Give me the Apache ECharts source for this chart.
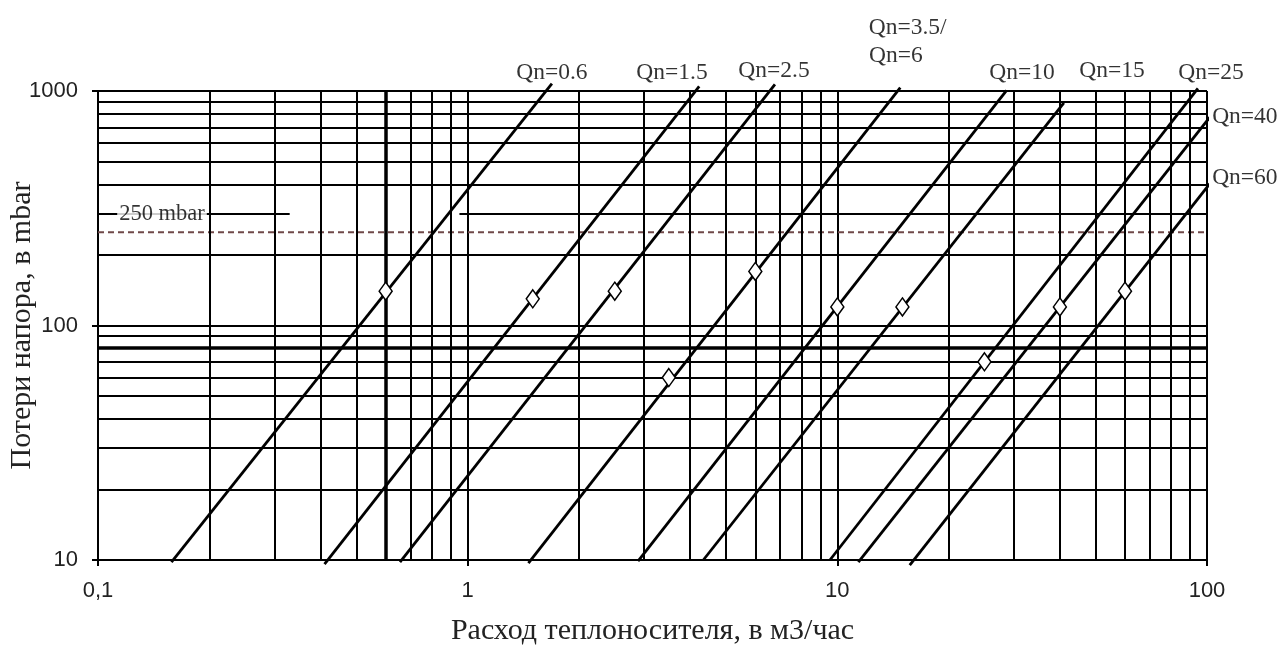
<!DOCTYPE html>
<html><head><meta charset="utf-8">
<script src="https://cdn.jsdelivr.net/npm/echarts@6/dist/echarts.min.js"></script>
<style>html,body{margin:0;padding:0;background:#fff}#c{width:1281px;height:646px}</style>
</head><body><div id="c"></div>
<script>
// ---- data ----
const xTickLabels = ['0,1', '1', '10', '100'];
const yTickLabels = ['10', '100', '1000'];
const xMinorGrid = [0.2, 0.3, 0.4, 0.5, 0.7, 0.8, 0.9, 2, 3, 4, 5, 6, 7, 8, 9, 20, 30, 40, 50, 60, 70, 80, 90];
const yMinorGrid = [20, 30, 40, 50, 60, 70, 90, 200, 400, 500, 600, 700, 800, 900];
const xHeavyGrid = [0.6];
const yHeavyGrid = [80];
const partialGridY = 300;
const partialGridFrom = 0.95;
const limitValue = 250;
const limitLabel = '250 mbar';
const limitLeader = [0.1, 0.33];
const limitSpan = [0.1, 105];

const lineNames = ['Qn=0.6', 'Qn=1.5', 'Qn=2.5', 'Qn=3.5/6', 'Qn=10', 'Qn=15', 'Qn=25', 'Qn=40', 'Qn=60'];
const lineQn06 = [[0.158, 9.8], [1.69, 1075]];
const lineQn15 = [[0.41, 9.6], [4.23, 1047]];
const lineQn25 = [[0.656, 9.8], [6.78, 1068]];
const lineQn35 = [[1.46, 9.7], [14.8, 1034]];
const lineQn10 = [[2.89, 9.9], [28.7, 1007]];
const lineQn150 = [[4.34, 10], [41, 890]];
const lineQn250 = [[9.55, 10], [94.5, 1027]];
const lineQn40 = [[11.4, 9.8], [101.8, 774]];
const lineQn60 = [[15.7, 9.5], [101.8, 403]];
const lines = [lineQn06, lineQn15, lineQn25, lineQn35, lineQn10, lineQn150, lineQn250, lineQn40, lineQn60];

const nominalPoints = [[0.6, 140], [1.5, 130], [2.5, 140], [3.5, 60], [6, 170], [10, 120], [15, 120], [25, 70], [40, 120], [60, 140]];

const labelTexts = ['Qn=0.6', 'Qn=1.5', 'Qn=2.5', 'Qn=3.5/', 'Qn=6', 'Qn=10', 'Qn=15', 'Qn=25', 'Qn=40', 'Qn=60'];
const labelAnchors = [[1.69, 1201], [3.57, 1201], [6.74, 1225], [15.5, 1868], [14.4, 1419], [31.6, 1201], [55.3, 1225], [102.5, 1201], [126.6, 773], [126.6, 425]];

// ---- chart ----
const ink = '#000';
const serif = 'Liberation Serif';
const gridStyle = { color: ink, width: 2, type: 'solid' };
const heavyStyle = { color: ink, width: 3.5, type: 'solid' };

const gridLines = []
  .concat(xMinorGrid.map(v => ({ xAxis: v, lineStyle: gridStyle })))
  .concat(yMinorGrid.map(v => ({ yAxis: v, lineStyle: gridStyle })))
  .concat(xHeavyGrid.map(v => ({ xAxis: v, lineStyle: heavyStyle })))
  .concat(yHeavyGrid.map(v => ({ yAxis: v, lineStyle: heavyStyle })));
gridLines.push([{ coord: [partialGridFrom, partialGridY], lineStyle: gridStyle }, { coord: [100, partialGridY] }]);
gridLines.push([{ coord: [limitLeader[0], partialGridY], lineStyle: gridStyle }, { coord: [limitLeader[1], partialGridY] }]);

const series = [{
  type: 'line', data: [], silent: true, clip: false,
  markLine: { silent: true, symbol: ['none', 'none'], label: { show: false }, animation: false,
              lineStyle: gridStyle, data: gridLines }
}];
series.push({
  type: 'line', data: limitSpan.map(x => [x, limitValue]), showSymbol: false, clip: false, z: 4, silent: true,
  lineStyle: { color: '#6f4848', width: 2, type: [6, 4] }
});
lines.forEach((d, i) => series.push({
  name: lineNames[i], type: 'line', data: d, showSymbol: false, clip: false, z: 5,
  lineStyle: { color: ink, width: 2.8 }
}));
series.push({
  type: 'scatter', data: nominalPoints, symbol: 'diamond', symbolSize: [13, 18], z: 8, clip: false,
  itemStyle: { color: '#fff', borderColor: ink, borderWidth: 1.5, opacity: 1 }
});
series.push({
  type: 'scatter', data: labelAnchors.map((c, i) => ({ value: c, name: labelTexts[i] })),
  symbolSize: 0, clip: false, z: 9, silent: true,
  label: { show: true, position: 'inside', formatter: p => p.name, fontFamily: serif, fontSize: 23.5, color: '#000' }
});
series.push({
  type: 'scatter', data: [{ value: [0.149, partialGridY], name: limitLabel }],
  symbolSize: 0, clip: false, z: 9, silent: true,
  label: { show: true, position: 'inside', formatter: p => p.name, fontFamily: serif, fontSize: 22.5, color: '#000',
           backgroundColor: '#fff', padding: [0, 2] }
});

const chart = echarts.init(document.getElementById('c'), null, { renderer: 'canvas' });
chart.setOption({
  animation: false,
  backgroundColor: '#fff',
  grid: { left: 98, right: 74, top: 91, bottom: 86, containLabel: false, outerBoundsMode: 'none' },
  xAxis: {
    type: 'log', logBase: 10, min: 0.1, max: 100,
    axisLine: { show: true, lineStyle: { color: ink, width: 2 } },
    axisTick: { show: true, length: 6, lineStyle: { color: ink, width: 2 } },
    axisLabel: { formatter: (v, i) => xTickLabels[i], fontFamily: 'Liberation Sans', fontSize: 22, color: '#222', margin: 20 },
    splitLine: { show: true, lineStyle: gridStyle },
    name: 'Расход теплоносителя, в м3/час', nameLocation: 'middle', nameGap: 56, nameMoveOverlap: false,
    nameTextStyle: { fontFamily: serif, fontSize: 30, color: '#222' }
  },
  yAxis: {
    type: 'log', logBase: 10, min: 10, max: 1000,
    axisLine: { show: true, lineStyle: { color: ink, width: 2 } },
    axisTick: { show: true, length: 6, lineStyle: { color: ink, width: 2 } },
    axisLabel: { formatter: (v, i) => yTickLabels[i], fontFamily: 'Liberation Sans', fontSize: 22, color: '#222', margin: 20 },
    splitLine: { show: true, lineStyle: gridStyle },
    name: 'Потери напора, в mbar', nameLocation: 'middle', nameGap: 61, nameRotate: 90, nameMoveOverlap: false,
    nameTextStyle: { fontFamily: serif, fontSize: 30, color: '#222' }
  },
  series: series
});
</script>
</body></html>
